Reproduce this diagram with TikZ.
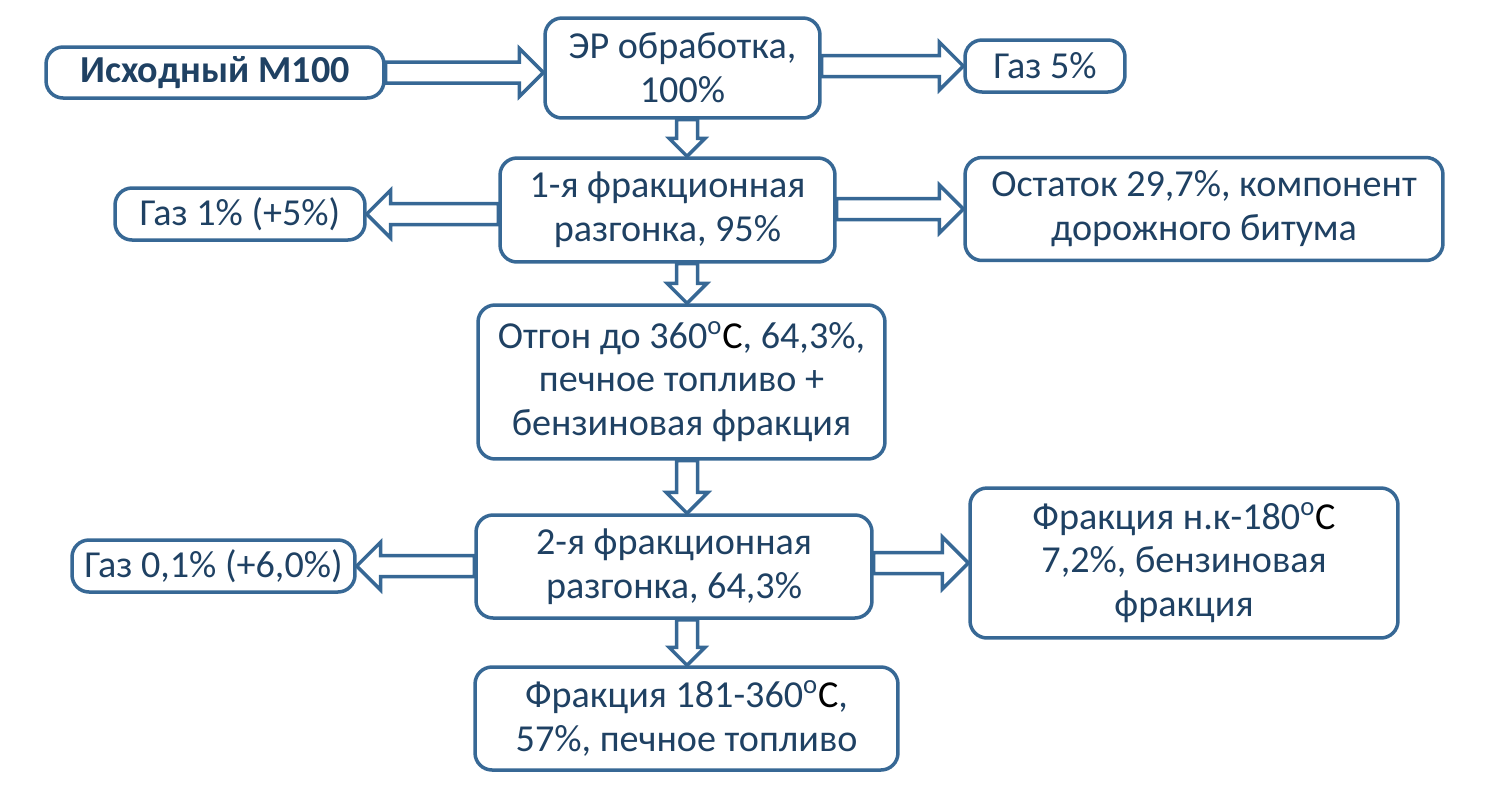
\documentclass[tikz,border=0pt]{standalone}
\usepackage{fontspec}
\setmainfont{Carlito}
\usepackage{tikz}
\usetikzlibrary{positioning,calc}
\definecolor{steel}{HTML}{376895}
\definecolor{ink}{HTML}{1F4163}
\tikzset{stage/.style={draw=steel,fill=white,line width=0.07cm,rounded corners=0.34cm,align=center,text=ink,font=\fontsize{21.7}{25}\selectfont,inner sep=0pt}, pipe/.style={draw=steel,fill=white,line width=0.07cm,line join=miter}}
\newcommand{\fatarrow}[3][0.48cm]{%
  \draw[pipe] ($(#2)!0.21cm!90:(#3)$) -- ($(#3)!#1!(#2)!0.21cm!90:(#3)$) -- ($(#3)!#1!(#2)!#1!90:(#3)$) -- (#3) -- ($(#3)!#1!(#2)!#1!-90:(#3)$) -- ($(#3)!#1!(#2)!0.21cm!-90:(#3)$) -- ($(#2)!0.21cm!-90:(#3)$) -- cycle;}
\newcommand{\degC}{\textsuperscript{o}\textcolor{black}{C}}

\begin{document}
\begin{tikzpicture}[x=0.02cm,y=-0.02cm]
\useasboundingbox (0,0) rectangle (1498,799);
\coordinate (axis) at (687,0);
\node[stage,minimum width=6.76cm,minimum height=1.02cm,font=\fontsize{21.7}{25}\selectfont\bfseries] (src) at (215,72.5) {Исходный М100};
\node[stage,minimum width=5.5cm,minimum height=2cm] (er) at (682.5,68) {ЭР обработка,\\100\%};
\node[stage,minimum width=3.2cm,minimum height=1.04cm] (gas1) at (1045,66) {Газ 5\%};
\node[stage,minimum width=6.7cm,minimum height=2.08cm] (frac1) at (667.5,210) {1-я фракционная\\разгонка, 95\%};
\node[stage,minimum width=5cm,minimum height=1.04cm] (gas2) at (240,214) {Газ 1\% (+5\%)};
\node[stage,minimum width=9.56cm,minimum height=2.06cm] (resid) at (1204,209) {Остаток 29,7\%, компонент\\дорожного битума};
\node[stage,minimum width=8.14cm,minimum height=3.08cm] (dist) at (681.5,382) {Отгон до 360\degC, 64,3\%,\\печное топливо +\\бензиновая фракция};
\node[stage,minimum width=7.92cm,minimum height=2.06cm] (frac2) at (674,566.5) {2-я фракционная\\разгонка, 64,3\%};
\node[stage,minimum width=5.66cm,minimum height=1.04cm] (gas3) at (213.5,566) {Газ 0,1\% (+6,0\%)};
\node[stage,minimum width=8.56cm,minimum height=3cm] (light) at (1184,563) {Фракция н.к-180\degC\\7,2\%, бензиновая\\фракция};
\node[stage,minimum width=8.46cm,minimum height=2.06cm] (heavy) at (686.5,718.5) {Фракция 181-360\degC,\\57\%, печное топливо};
\fatarrow{src.east}{src.east -| er.west}
\fatarrow{er.east |- gas1}{gas1.west}
\fatarrow[0.36cm]{er.south -| axis}{frac1.north -| axis}
\fatarrow{frac1.west |- gas2}{gas2.east}
\fatarrow{frac1.east |- resid}{resid.west}
\fatarrow[0.4cm]{frac1.south -| axis}{dist.north -| axis}
\fatarrow[0.42cm]{dist.south -| axis}{frac2.north -| axis}
\fatarrow{frac2.west |- gas3}{gas3.east}
\fatarrow[0.52cm]{frac2.east |- light}{light.west}
\fatarrow[0.36cm]{frac2.south -| axis}{heavy.north -| axis}
\end{tikzpicture}
\end{document}
